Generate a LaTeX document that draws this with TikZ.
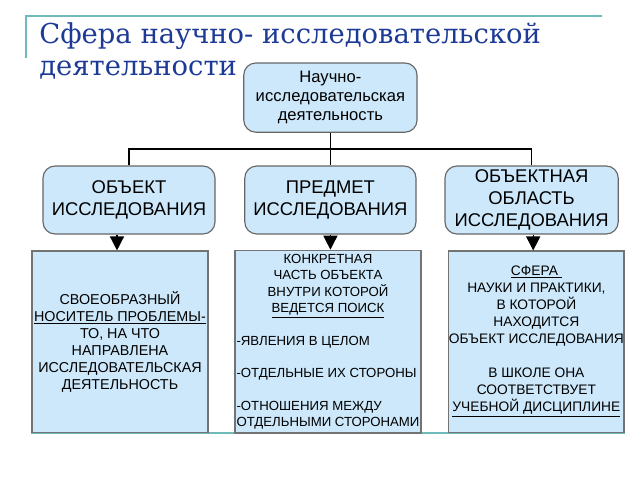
\documentclass[tikz,border=0pt]{standalone}
\usepackage{fontspec}
\setmainfont{Liberation Sans}
\newfontfamily\titlefont{DejaVu Serif}
\usetikzlibrary{arrows.meta,backgrounds}

\definecolor{boxblue}{RGB}{204,232,250}
\definecolor{titleblue}{RGB}{28,58,150}
\definecolor{slideteal}{RGB}{110,186,186}
\newcommand{\centredrow}[1]{\multicolumn{1}{@{}c@{}}{#1}}

\begin{document}
\begin{tikzpicture}[
    headbox/.style={draw=black!60, fill=boxblue, rounded corners=0.3cm, line width=0.8pt, align=center},
    midbox/.style={headbox, minimum width=4.3cm, minimum height=1.7cm, inner sep=2pt, font=\fontsize{13.1}{15.4}\selectfont},
    notebox/.style={draw=black!55, fill=boxblue, line width=0.8pt, minimum height=4.53cm, inner sep=1pt, align=center, font=\fontsize{10.2}{12.1}\selectfont},
    titletext/.style={anchor=base west, inner sep=0pt, text=titleblue, font=\titlefont\fontsize{19.5}{22}\selectfont},
    link/.style={line width=1pt},
    pointer/.style={line width=1pt, -{Triangle[width=10pt,length=10pt]}}
]
    \useasboundingbox (0,0) rectangle (16,-12);

    % Slide title
    \draw[slideteal, line width=1.4pt] (0.65,-1.45) -- (0.65,-0.4) -- (15.05,-0.4);
    \node[titletext] (title1) at (0.975,-1.075) {Сфера научно- исследовательской};
    \node[titletext] (title2) at (0.975,-1.875) {деятельности};

    % Top box
    \node[headbox, minimum width=4.33cm, minimum height=1.73cm, font=\fontsize{11.8}{13.5}\selectfont] (sphere) at (8.26,-2.44) {Научно-\\исследовательская\\деятельность};

    % Middle row
    \node[midbox] (object) at (3.225,-5.0) {ОБЪЕКТ\\ИССЛЕДОВАНИЯ};
    \node[midbox, minimum width=4.28cm] (subject) at (8.26,-5.0) {ПРЕДМЕТ\\ИССЛЕДОВАНИЯ};
    \node[midbox, minimum width=4.33cm] (area) at (13.29,-5.0) {ОБЪЕКТНАЯ\\ОБЛАСТЬ\\ИССЛЕДОВАНИЯ};

    % Bottom row
    \node[notebox, minimum width=4.4cm] (objnote) at (3.0,-8.54) {СВОЕОБРАЗНЫЙ\\\underline{НОСИТЕЛЬ ПРОБЛЕМЫ-}\\ТО, НА ЧТО\\НАПРАВЛЕНА\\ИССЛЕДОВАТЕЛЬСКАЯ\\ДЕЯТЕЛЬНОСТЬ};
    \node[notebox, minimum width=4.65cm, font=\fontsize{9.4}{11.6}\selectfont] (subjnote) at (8.2,-8.54) {%
        \begin{tabular}{@{}l@{}}
            \centredrow{КОНКРЕТНАЯ}\\
            \centredrow{ЧАСТЬ ОБЪЕКТА}\\
            \centredrow{ВНУТРИ КОТОРОЙ}\\
            \centredrow{\underline{ВЕДЕТСЯ ПОИСК}}\\[11.6pt]
            -ЯВЛЕНИЯ В ЦЕЛОМ\\[11.6pt]
            -ОТДЕЛЬНЫЕ ИХ СТОРОНЫ\\[11.6pt]
            -ОТНОШЕНИЯ МЕЖДУ\\
            ОТДЕЛЬНЫМИ СТОРОНАМИ
        \end{tabular}};
    \node[notebox, minimum width=4.38cm, font=\fontsize{9.8}{12.1}\selectfont] (areanote) at (13.41,-8.54) {\underline{СФЕРА }\\НАУКИ И ПРАКТИКИ,\\В КОТОРОЙ\\НАХОДИТСЯ\\\makebox[4.2cm]{ОБЪЕКТ ИССЛЕДОВАНИЯ}\\[12pt]В ШКОЛЕ ОНА\\СООТВЕТСТВУЕТ\\\underline{УЧЕБНОЙ ДИСЦИПЛИНЕ}};

    % Tree lines
    \coordinate (bus) at (8.26,-3.725);
    \draw[link] (sphere.south) -- (subject.north);
    \draw[link] (object.north) |- (bus) -| (area.north);

    % Arrows down
    \draw[pointer] ([xshift=-0.3cm]object.south) -- ([xshift=-0.3cm]object.south |- objnote.north);
    \draw[pointer] (subject.south) -- (subject.south |- subjnote.north);
    \draw[pointer] ([xshift=0.04cm]area.south) -- ([xshift=0.04cm]area.south |- areanote.north);

    \begin{scope}[on background layer]
        \draw[slideteal, line width=1.2pt] (objnote.south west) -- (areanote.south east);
    \end{scope}
\end{tikzpicture}
\end{document}
